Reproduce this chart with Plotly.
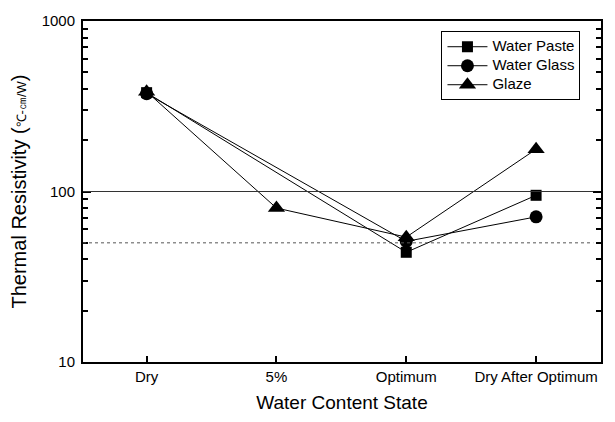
import plotly.graph_objects as go

categories = ["Dry", "5%", "Optimum", "Dry After Optimum"]
series_names = ["Water Paste", "Water Glass", "Glaze"]
water_paste = [380, None, 44, 95]
water_glass = [375, None, 51, 71]
glaze = [385, 80, 54, 177]
ref_lines = [100, 50]
y_major = [10, 100, 1000]
y_minor = [m * d for d in (10, 100) for m in range(2, 10)]

FONT = "Liberation Sans, Arial, sans-serif"
xs = list(range(len(categories)))

fig = go.Figure()
series = [
    (series_names[0], water_paste, "square", 11),
    (series_names[1], water_glass, "circle", 13),
    (series_names[2], glaze, "triangle-up", 15),
]
for name, vals, sym, sz in series:
    fig.add_trace(go.Scatter(
        x=xs, y=vals, name=f"<span style='font-size:15px'>{name}</span>",
        mode="lines+markers", connectgaps=True,
        line=dict(color="black", width=1),
        marker=dict(symbol=sym, size=sz, color="black"),
    ))

for i, v in enumerate(ref_lines):
    fig.add_shape(type="line", xref="paper", yref="y", x0=0, x1=0.985, y0=v, y1=v,
                  line=dict(color="#333333" if i == 0 else "#555555", width=1,
                            dash="solid" if i == 0 else "dot"))
    fig.add_annotation(xref="paper", yref="y", x=0.99, y=v, ax=-6, ay=0, text="",
                       showarrow=True, arrowhead=2, arrowsize=0.7, arrowwidth=1,
                       arrowcolor="#222222")

fig.update_layout(
    width=615, height=422,
    margin=dict(l=83, r=12, t=16, b=57),
    paper_bgcolor="white", plot_bgcolor="white",
    font=dict(family=FONT, size=15, color="black"),
    legend=dict(x=0.692, y=0.97, xanchor="left", yanchor="top",
                bordercolor="black", borderwidth=1, bgcolor="white",
                font=dict(size=11), itemwidth=40, tracegroupgap=0),
    showlegend=True,
)
fig.update_xaxes(
    range=[-0.49, 3.5], tickvals=xs, ticktext=categories,
    ticks="inside", ticklen=6, tickcolor="black", tickwidth=1.5,
    showline=True, linecolor="black", linewidth=2, mirror=True,
    showgrid=False, zeroline=False,
    title=dict(text="Water Content State", font=dict(size=19), standoff=12),
)
fig.update_yaxes(
    type="log", range=[1, 3], tickvals=y_major, ticktext=[str(v) for v in y_major],
    ticks="inside", ticklen=8, tickcolor="black", tickwidth=1.5, ticklabelstandoff=3,
    minor=dict(tickvals=y_minor, ticks="inside", ticklen=5, tickcolor="black",
               tickwidth=1.5, showgrid=False),
    showline=True, linecolor="black", linewidth=2, mirror="ticks",
    showgrid=False, zeroline=False,
    title=dict(text="Thermal Resistivity (<span style='font-size:13px'>℃-㎝/W</span>)",
               font=dict(size=20), standoff=10),
)

fig.write_html("out.html")
